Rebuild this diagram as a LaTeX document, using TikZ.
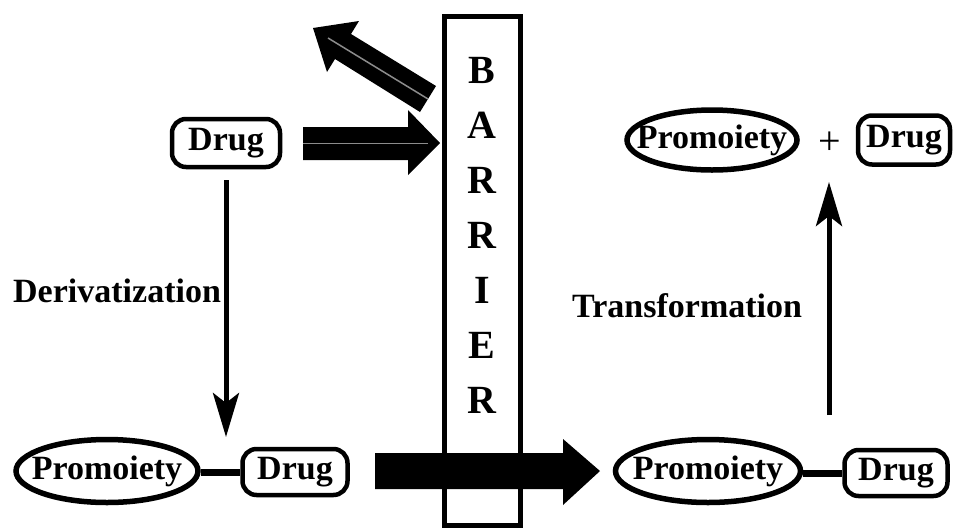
\documentclass[tikz,border=0pt]{standalone}
\usepackage{fontspec}
\setmainfont{Liberation Serif}
\usetikzlibrary{arrows.meta,shapes.geometric}
\newcommand\lblfont{\fontsize{34}{40}\selectfont\bfseries}
\begin{document}
\begin{tikzpicture}[x=1pt,y=-1pt,
  drugbox/.style={draw, line width=4.5pt, rounded corners=14pt, inner sep=0pt,
    minimum width=105pt, minimum height=46pt, font=\lblfont},
  oval/.style={draw, ellipse, line width=5.5pt, inner sep=0pt,
    minimum width=182pt, minimum height=63pt, font=\lblfont},
  bond/.style={line width=7pt},
  thinarrow/.style={line width=5pt, -{Stealth[length=44pt,width=26pt,inset=10pt]}},
  bigarrow/.style={fill=black},
  midline/.style={draw=black!45, line width=1.5pt},
  lbl/.style={font=\lblfont, inner sep=0pt}
]
\useasboundingbox (0,0) rectangle (961,531);

% barrier
\node[draw, line width=5pt, minimum width=76pt, minimum height=509pt, inner sep=0pt] (barrier) at (482.5,271) {};
\node[font=\fontsize{40}{55}\selectfont\bfseries, align=center, inner sep=0pt] (letters) at (482,235)
  {B\\A\\R\\R\\I\\E\\R};

% top-left drug
\node[drugbox, minimum width=108pt, minimum height=48pt] (drugA) at (226,143) {Drug};

% bottom-left prodrug
\node[oval] (promoL) at (107,471) {\makebox[0pt]{Promoiety}};
\node[drugbox] (drugL) at (295,472) {Drug};
\draw[bond] (drugL.west -| promoL.east) -- (drugL.west);

% bottom-right prodrug
\node[oval, minimum width=185pt] (promoR) at (708,471) {\makebox[0pt]{Promoiety}};
\node[drugbox, minimum width=103pt] (drugR) at (896,473) {Drug};
\draw[bond] (drugR.west -| promoR.east) -- (drugR.west);

% top-right products
\node[oval, minimum width=170pt, minimum height=60pt] (promoT) at (712,140) {\makebox[0pt]{Promoiety}};
\node[font=\fontsize{40}{44}\selectfont, inner sep=0pt] (plus) at (830,143) {+};
\node[drugbox, minimum width=92pt, minimum height=49pt] (drugT) at (904,140) {Drug};

% labels
\node[lbl, anchor=west] (deriv) at (13,291) {Derivatization};
\node[lbl, anchor=west] (trans) at (572,306) {Transformation};

% thin arrows
\coordinate (dEnd) at (226,437);
\draw[thinarrow] ([yshift=-11pt]drugA.south) -- (dEnd);
\coordinate (uStart) at (829,415);
\coordinate (uEnd) at (829,182);
\draw[thinarrow] (uStart) -- (uEnd);

% horizontal thick arrow to barrier
\fill[bigarrow] (303,127) -- (408,127) -- (408,110) -- (440,143) -- (408,175) -- (408,160) -- (303,160) -- cycle;
\draw[midline] (303,143.5) -- (428,143.5);

% reflected diagonal arrow
\fill[bigarrow] (436,86) -- (351,34) -- (359,21) -- (313,28) -- (327,72) -- (335,59) -- (420,112) -- cycle;
\draw[midline] (428,99) -- (328,38);

% bottom big arrow across barrier
\fill[bigarrow] (375,453) -- (563,453) -- (563,439) -- (600,471) -- (563,505) -- (563,489) -- (375,489) -- cycle;
\end{tikzpicture}
\end{document}
